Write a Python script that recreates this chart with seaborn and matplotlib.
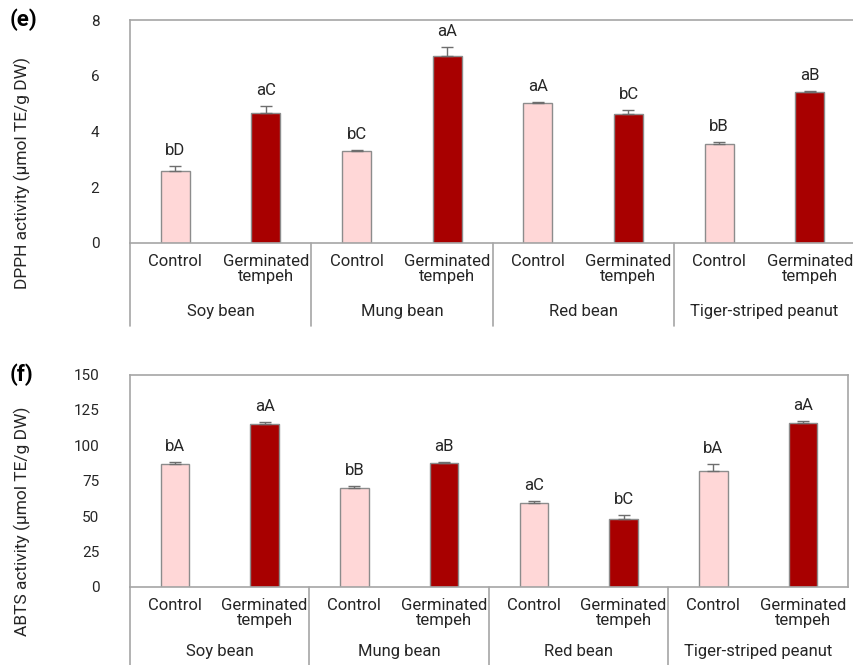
import matplotlib
matplotlib.use("Agg")
import matplotlib.pyplot as plt
import matplotlib.transforms as mtransforms
import numpy as np
import pandas as pd
import seaborn as sns

sns.set_theme(style="white")
plt.rcParams["font.family"] = ["Roboto", "DejaVu Sans"]

# ---- data -------------------------------------------------------------
beans = ["Soy bean", "Mung bean", "Red bean", "Tiger-striped peanut"]
treatments = ["Control", "Germinated\ntempeh"]

dpph_mean = [2.59, 4.67, 3.31, 6.71, 5.01, 4.62, 3.55, 5.42]
dpph_err = [0.18, 0.24, 0.03, 0.33, 0.06, 0.14, 0.07, 0.04]
dpph_letters = ["bD", "aC", "bC", "aA", "aA", "bC", "bB", "aB"]

abts_mean = [86.6, 114.9, 69.7, 87.6, 59.3, 48.0, 81.9, 115.8]
abts_err = [1.6, 1.4, 1.4, 0.9, 1.6, 2.8, 4.7, 1.4]
abts_letters = ["bA", "aA", "bB", "aB", "aC", "bC", "bA", "aA"]

dpph_ticks = [0, 2, 4, 6, 8]
abts_ticks = [0, 25, 50, 75, 100, 125, 150]

palette = {"Control": "#FFD7D7", "Germinated\ntempeh": "#A80000"}
spine_col = "#A6A6A6"
edge_col = "#8C8C8C"
err_col = "#6E6E6E"
text_col = "#262626"


def make_frame(means, errs, letters):
    rows = []
    for i, bean in enumerate(beans):
        for j, tr in enumerate(treatments):
            k = 2 * i + j
            rows.append({"slot": f"{bean}|{tr}", "bean": bean, "treatment": tr,
                         "value": means[k], "err": errs[k], "letter": letters[k]})
    return pd.DataFrame(rows)


def draw_panel(ax, df, ticks, ylabel, panel, drop, right_spine=True):
    order = list(df["slot"])
    sns.barplot(data=df, x="slot", y="value", hue="treatment", order=order,
                hue_order=treatments, palette=palette, saturation=1, dodge=False,
                width=0.32, edgecolor=edge_col, linewidth=1.0, errorbar=None,
                legend=False, ax=ax)
    xs = np.arange(len(df))
    ax.errorbar(xs, df["value"], yerr=[np.zeros(len(df)), df["err"]], fmt="none",
                ecolor=err_col, elinewidth=1.0, capsize=4.5, capthick=1.0, zorder=3)
    for x, v, e, lab in zip(xs, df["value"], df["err"], df["letter"]):
        ax.annotate(lab, (x, v + e), xytext=(0, 8), textcoords="offset points",
                    ha="center", va="baseline", fontsize=12, color=text_col)

    ax.set_xlim(-0.5, len(df) - 0.5)
    ax.set_ylim(ticks[0], ticks[-1])
    ax.set_yticks(ticks)
    ax.set_yticklabels([str(t) for t in ticks], fontsize=11, color=text_col)
    ax.set_xticks(xs)
    ax.set_xticklabels([t for t in df["treatment"]], fontsize=12, color=text_col,
                       linespacing=0.95)
    ax.tick_params(axis="x", length=0, pad=8)
    ax.tick_params(axis="y", length=0, pad=22)
    ax.set_xlabel("")
    ax.set_ylabel("")
    for s in ax.spines.values():
        s.set_color(spine_col)
        s.set_linewidth(1.2)
    ax.spines["right"].set_visible(right_spine)

    trans = mtransforms.blended_transform_factory(ax.transData, ax.transAxes)
    # group separators of the two-level category axis
    for sep in np.arange(-0.5, len(df) - 1, 2):
        ax.plot([sep, sep], [0, -drop], transform=trans, color=spine_col,
                lw=1.2, clip_on=False)
    for i, bean in enumerate(beans):
        ax.text(2 * i + 0.5, -0.305, bean, transform=trans, ha="center", va="center",
                fontsize=12, color=text_col)

    fig = ax.figure
    bbox = ax.get_position()
    ymid = bbox.y0 + bbox.height * (1 - drop) / 2
    fig.text(0.026, ymid, ylabel, rotation=90, ha="center", va="center",
             fontsize=12.5, color=text_col)
    fig.text(0.011, bbox.y1, panel, ha="left", va="center", fontsize=16,
             fontweight="semibold", color="black")


fig = plt.figure(figsize=(8.54, 6.65), dpi=100)
W, H = 854, 665
ax_top = fig.add_axes([130 / W, (H - 243) / H, 725 / W, 223 / H])
ax_bot = fig.add_axes([130 / W, (H - 587) / H, 718 / W, 212.5 / H])

draw_panel(ax_top, make_frame(dpph_mean, dpph_err, dpph_letters), dpph_ticks,
           "DPPH activity (μmol TE/g DW)", "(e)", 0.37, right_spine=False)
draw_panel(ax_bot, make_frame(abts_mean, abts_err, abts_letters), abts_ticks,
           "ABTS activity (μmol TE/g DW)", "(f)", 0.38)

fig.savefig("out.png", dpi=100)
